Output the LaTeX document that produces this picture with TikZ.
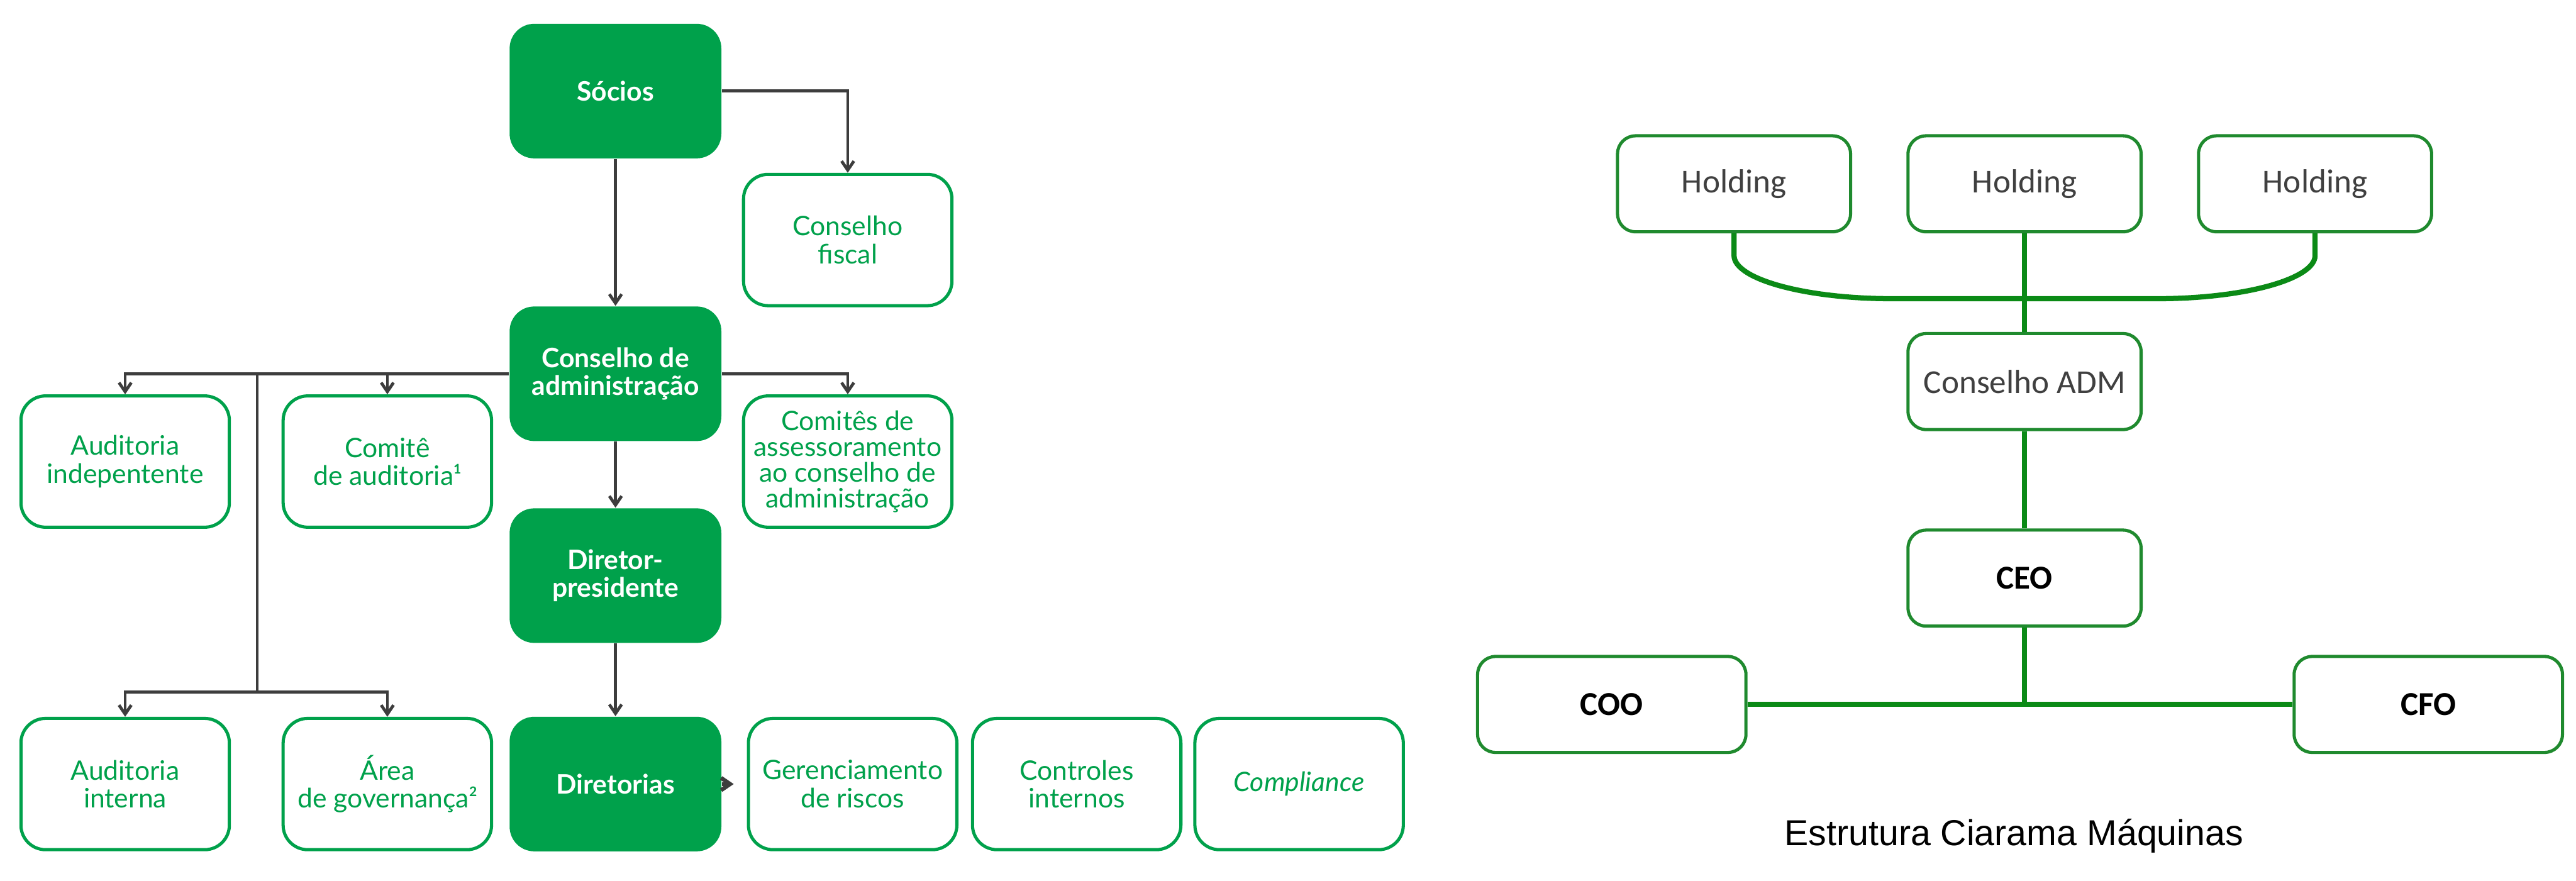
\documentclass[tikz,border=0pt]{standalone}
\usepackage{fontspec}
\setmainfont{Lato}
\newfontfamily\calibri{Carlito}
\newfontfamily\capfont{Liberation Sans}
\usepackage{tikz}
\usepackage{xcolor}
\usetikzlibrary{positioning,arrows.meta}
\definecolor{gov}{HTML}{00A14B}
\definecolor{arr}{HTML}{3D3D3D}
\definecolor{cia}{HTML}{1F8A2E}
\definecolor{cialine}{HTML}{0B8A16}
\definecolor{txtgray}{HTML}{404040}
\newcommand{\fnmark}[1]{\raisebox{0.85ex}{\fontsize{4.6}{5}\selectfont\bfseries #1}}

\begin{document}
\begin{tikzpicture}[>={Straight Barb[length=1.1mm,width=1.5mm]},
    every node/.style={font=\fontsize{9.3}{9.7}\selectfont,align=center}]
    \tikzstyle{fb}=[rectangle,rounded corners=3mm,fill=gov,minimum width=2.58cm,minimum height=1.64cm,
                    inner sep=0pt,text=white,font=\fontsize{9.3}{9.7}\selectfont\bfseries];
    \tikzstyle{ob}=[rectangle,rounded corners=3mm,draw=gov,line width=1.1pt,fill=white,
                    minimum width=2.54cm,minimum height=1.60cm,inner sep=0pt,text=gov];
    \tikzstyle{hb}=[rectangle,rounded corners=2.2mm,draw=cia,line width=1.1pt,fill=white,
                    minimum width=2.84cm,minimum height=1.17cm,inner sep=0pt,text=txtgray,
                    font=\calibri\fontsize{11.6}{14}\selectfont];
    \tikzstyle{cb}=[hb,text=black,font=\calibri\bfseries\fontsize{11.6}{14}\selectfont];
    \tikzstyle{a}=[->,draw=arr,line width=1.05pt];
    \tikzstyle{rl}=[draw=cialine,line width=1.8pt];
    \useasboundingbox (0,0) rectangle (31.39,10.73);
    % --- left: governance chart ---
    \node[fb] (soc)  at ( 7.50,9.62)  {Sócios};
    \node[ob] (cfis) at (10.33,7.805) {Conselho\\fiscal};
    \node[fb] (cadm) at ( 7.50,6.175) {Conselho de\\administração};
    \node[ob] (aind) at ( 1.525,5.105) {Auditoria\\indepentente};
    \node[ob] (caud) at ( 4.72,5.105) {Comitê\\de auditoria\fnmark{1}};
    \node[ob,font=\fontsize{9.3}{8.9}\selectfont] (cass) at (10.33,5.105)
       {Comitês de\\assessoramento\\ao conselho de\\administração};
    \node[fb] (dpre) at ( 7.50,3.715) {Diretor-\\presidente};
    \node[ob] (aint) at ( 1.525,1.175) {Auditoria\\interna};
    \node[ob] (agov) at ( 4.72,1.175) {Área\\de governança\fnmark{2}};
    \node[fb] (dirs) at ( 7.50,1.175) {Diretorias};
    \node[ob] (grisk) at (10.39,1.175) {Gerenciamento\\de riscos};
    \node[ob] (cint) at (13.12,1.175) {Controles\\internos};
    \node[ob] (comp) at (15.83,1.175) {\itshape Compliance};
    \coordinate (trtop) at (3.135,6.175);
    \coordinate (trbot) at (3.135,2.295);
    \draw[a] (soc.south) -- (cadm.north);
    \draw[a] (soc.east) -| (cfis.north);
    \draw[a] (cadm.west) -| (aind.north);
    \draw[a] (cadm.west) -| (caud.north);
    \draw[a] (cadm.east) -| (cass.north);
    \draw[arr,line width=1.05pt] (trtop) -- (trbot);
    \draw[a] (trbot) -| (aint.north);
    \draw[a] (trbot) -| (agov.north);
    \draw[a] (cadm.south) -- (dpre.north);
    \draw[a] (dpre.south) -- (dirs.north);
    \draw[a,line width=1.4pt,shorten >=1.6mm] (dirs.east) -- (grisk.west);
    % --- right: Ciarama ---
    \node[hb] (h1)   at (21.13,8.49) {Holding};
    \node[hb] (h2)   at (24.67,8.49) {Holding};
    \node[hb] (h3)   at (28.21,8.49) {Holding};
    \node[hb] (cadm2) at (24.67,6.08) {Conselho ADM};
    \node[cb] (ceo)  at (24.67,3.685) {CEO};
    \node[cb,minimum width=3.27cm] (coo) at (19.64,2.145) {COO};
    \node[cb,minimum width=3.27cm] (cfo) at (29.59,2.145) {CFO};
    \coordinate (hj) at (24.67,7.09);
    \coordinate (hl) at (23.05,7.09);
    \coordinate (hr) at (26.29,7.09);
    \coordinate (cj) at (24.67,2.145);
    \draw[rl] (h2.south) -- (cadm2.north);
    \draw[rl] (h1.south) -- ++(0,-0.27) .. controls (21.13,7.33) and (21.99,7.09) .. (hl) -- (hj);
    \draw[rl] (h3.south) -- ++(0,-0.27) .. controls (28.21,7.33) and (27.35,7.09) .. (hr) -- (hj);
    \draw[rl] (cadm2.south) -- (ceo.north);
    \draw[rl] (ceo.south) -- (cj);
    \draw[rl] (coo.east) -- (cfo.west);
    \node[font=\capfont\fontsize{12.5}{15}\selectfont] (cap) at (24.54,0.545) {Estrutura Ciarama Máquinas};
\end{tikzpicture}
\end{document}
